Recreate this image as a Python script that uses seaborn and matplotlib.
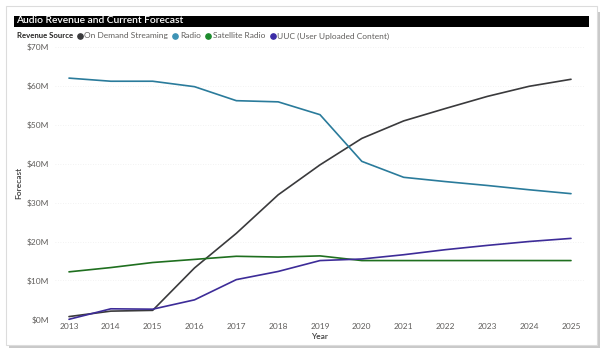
import matplotlib
matplotlib.use("Agg")
import matplotlib.pyplot as plt
from matplotlib.patches import Rectangle
from matplotlib.lines import Line2D
import seaborn as sns
import pandas as pd

years = [2013, 2014, 2015, 2016, 2017, 2018, 2019, 2020, 2021, 2022, 2023, 2024, 2025]
on_demand = [0.7, 2.1, 2.3, 13.2, 22.1, 32.0, 39.7, 46.5, 51.0, 54.2, 57.3, 59.9, 61.7]
radio = [62.0, 61.2, 61.2, 59.8, 56.2, 55.9, 52.6, 40.6, 36.5, 35.4, 34.4, 33.3, 32.3]
satellite = [12.2, 13.3, 14.6, 15.4, 16.2, 16.0, 16.3, 15.1, 15.1, 15.1, 15.1, 15.1, 15.1]
uuc = [0.0, 2.7, 2.6, 5.0, 10.2, 12.3, 15.1, 15.5, 16.6, 17.9, 19.0, 20.0, 20.8]
series_names = ["On Demand Streaming", "Radio", "Satellite Radio", "UUC (User Uploaded Content)"]
y_ticks = [0, 10, 20, 30, 40, 50, 60, 70]
y_tick_labels = ["$0M", "$10M", "$20M", "$30M", "$40M", "$50M", "$60M", "$70M"]

line_colors = {"On Demand Streaming": "#3a3a3c", "Radio": "#2a7b9b",
               "Satellite Radio": "#1f6f1f", "UUC (User Uploaded Content)": "#3d2c98"}
marker_colors = {"On Demand Streaming": "#3a3a3c", "Radio": "#3d93b5",
                 "Satellite Radio": "#1c8a2c", "UUC (User Uploaded Content)": "#3b2ca6"}

df = pd.DataFrame({
    "Year": years * 4,
    "Forecast": on_demand + radio + satellite + uuc,
    "Revenue Source": sum([[n] * len(years) for n in series_names], []),
})

sns.set_theme(style="white")
plt.rcParams['font.family'] = ['Lato', 'DejaVu Sans']

W, H = 608, 360
fig = plt.figure(figsize=(W / 100, H / 100), dpi=100)
fig.patch.set_facecolor("white")

def fx(px):
    return px / W

def fy(py):
    return 1 - py / H

# card shadow and card
fig.patches.append(Rectangle((fx(9), fy(348)), fx(591), (345 - 9) / H, transform=fig.transFigure,
                             facecolor="#c9c9c9", edgecolor="none", zorder=0))
fig.patches.append(Rectangle((fx(6), fy(345)), fx(591), (345 - 6) / H, transform=fig.transFigure,
                             facecolor="white", edgecolor="#dcdcdc", linewidth=0.8, zorder=0.1))
# title bar
fig.patches.append(Rectangle((fx(14), fy(26.5)), fx(575), 11 / H, transform=fig.transFigure,
                             facecolor="black", edgecolor="none", zorder=0.2))
fig.text(fx(16), fy(20.5), "Audio Revenue and Current Forecast", color="white", fontsize=7.4,
         fontweight="semibold", va="center", ha="left", zorder=3)

# axes placement: 2013->69px, 2025->571px; 0->319.3px, 70->47px
ppy = (571 - 69) / 12
left_px, right_px = 55, 585
top_px, bot_px = 47, 319.3
ax = fig.add_axes([fx(left_px), fy(bot_px), (right_px - left_px) / W, (bot_px - top_px) / H])
ax.set_zorder(2)
ax.set_facecolor("none")

sns.lineplot(data=df, x="Year", y="Forecast", hue="Revenue Source", palette=line_colors,
             hue_order=series_names, linewidth=1.2, ax=ax, legend=False)
for ln in ax.lines:
    ln.set_clip_on(False)

ax.set_xlim(2013 - (69 - left_px) / ppy, 2025 + (right_px - 571) / ppy)
ax.set_ylim(0, 70)
ax.set_xticks(years)
ax.set_xticklabels([str(y) for y in years])
ax.set_yticks(y_ticks)
ax.set_yticklabels(y_tick_labels)
ax.tick_params(axis="both", labelsize=6, colors="#605e5c", length=0, pad=3)
ax.tick_params(axis="y", pad=4)
for sp in ax.spines.values():
    sp.set_visible(False)
ax.yaxis.grid(True, color="#eeeeee", linewidth=0.6, linestyle=(0, (1, 2)))
ax.set_axisbelow(True)
ax.set_xlabel("Year", fontsize=6, color="#404040", fontweight="semibold", labelpad=2)
ax.set_ylabel("Forecast", fontsize=6, color="#404040", fontweight="semibold")
ax.yaxis.set_label_coords(fx(22 - left_px) * W / (right_px - left_px), 0.5)

# legend
fig.text(fx(17), fy(36), "Revenue Source", fontsize=5.6, fontweight="bold", color="#252423",
         va="center", ha="left", zorder=3)
handles = [Line2D([0], [0], marker="o", linestyle="none", markersize=3.8,
                  markerfacecolor=marker_colors[n], markeredgecolor=marker_colors[n]) for n in series_names]
leg = fig.legend(handles, series_names, loc="center left", bbox_to_anchor=(fx(77), fy(36)),
                 ncol=4, frameon=False, fontsize=6, handlelength=0.6, handletextpad=0.25,
                 columnspacing=0.6, borderpad=0, borderaxespad=0)
leg.set_zorder(3)
for t in leg.get_texts():
    t.set_color("#605e5c")

fig.savefig("out.png", dpi=100, facecolor="white")
